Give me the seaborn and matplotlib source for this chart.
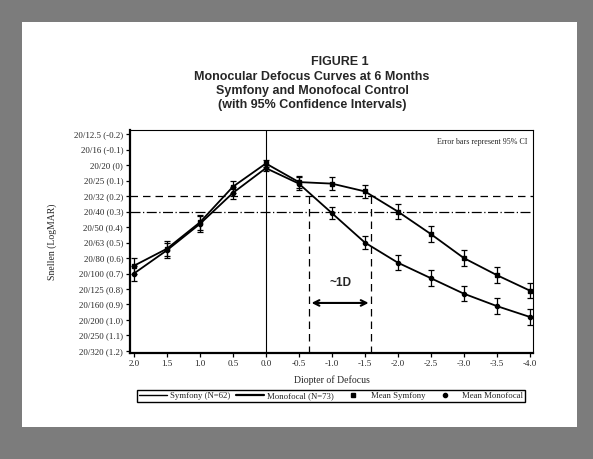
import matplotlib
matplotlib.use("Agg")
import matplotlib.pyplot as plt
from matplotlib.patches import Rectangle
from matplotlib.lines import Line2D
import seaborn as sns
import pandas as pd
import numpy as np

# ---- data ----
defocus = [2.0, 1.5, 1.0, 0.5, 0.0, -0.5, -1.0, -1.5, -2.0, -2.5, -3.0, -3.5, -4.0]
symfony = [0.65, 0.54, 0.37, 0.14, -0.01, 0.11, 0.12, 0.17, 0.30, 0.445, 0.60, 0.71, 0.81]
monofocal = [0.70, 0.55, 0.38, 0.18, 0.02, 0.12, 0.31, 0.50, 0.63, 0.73, 0.83, 0.91, 0.98]
symfony_ci = [0.05, 0.05, 0.05, 0.04, 0.02, 0.04, 0.04, 0.04, 0.05, 0.05, 0.05, 0.05, 0.05]
monofocal_ci = [0.05, 0.05, 0.05, 0.04, 0.02, 0.04, 0.04, 0.04, 0.05, 0.05, 0.05, 0.05, 0.05]
x_ticks = [2.0, 1.5, 1.0, 0.5, 0.0, -0.5, -1.0, -1.5, -2.0, -2.5, -3.0, -3.5, -4.0]
x_tick_labels = ["2.0", "1.5", "1.0", "0.5", "0.0", "-0.5", "-1.0", "-1.5", "-2.0",
                 "-2.5", "-3.0", "-3.5", "-4.0"]
y_ticks = [-0.2, -0.1, 0.0, 0.1, 0.2, 0.3, 0.4, 0.5, 0.6, 0.7, 0.8, 0.9, 1.0, 1.1, 1.2]
y_tick_labels = ["20/12.5 (-0.2)", "20/16 (-0.1)", "20/20 (0)", "20/25 (0.1)", "20/32 (0.2)",
                 "20/40 (0.3)", "20/50 (0.4)", "20/63 (0.5)", "20/80 (0.6)", "20/100 (0.7)",
                 "20/125 (0.8)", "20/160 (0.9)", "20/200 (1.0)", "20/250 (1.1)", "20/320 (1.2)"]
ref_dash = 0.2
ref_dashdot = 0.3
range_left = -0.65
range_right = -1.6

df = pd.DataFrame({
    "defocus": defocus * 2,
    "logmar": symfony + monofocal,
    "group": ["Symfony (N=62)"] * len(defocus) + ["Monofocal (N=73)"] * len(defocus),
})

sns.set_style("white")
serif = ["Liberation Serif", "DejaVu Serif"]
sans = ["Liberation Sans", "DejaVu Sans"]

fig = plt.figure(figsize=(5.93, 4.59), dpi=100, facecolor="#7c7c7c")
fig.patches.append(Rectangle((22 / 593, 1 - 427 / 459), (577 - 22) / 593, (427 - 22) / 459,
                             transform=fig.transFigure, facecolor="white", edgecolor="none",
                             zorder=-10))

ax = fig.add_axes([130 / 593, 1 - 353 / 459, (533 - 130) / 593, (353 - 130) / 459])
ax.set_facecolor("white")

sns.lineplot(data=df, x="defocus", y="logmar", hue="group",
             palette={"Symfony (N=62)": "black", "Monofocal (N=73)": "black"},
             linewidth=1.3, legend=False, ax=ax, sort=False, estimator=None)

ax.errorbar(defocus, symfony, yerr=symfony_ci, fmt="s", color="black", markersize=3,
            capsize=2.5, elinewidth=0.9, capthick=0.9, zorder=5)
ax.errorbar(defocus, monofocal, yerr=monofocal_ci, fmt="o", color="black", markersize=3,
            capsize=2.5, elinewidth=0.9, capthick=0.9, zorder=5)

ax.axhline(ref_dash, color="black", lw=0.9, ls=(0, (6, 4)), zorder=1)
ax.axhline(ref_dashdot, color="black", lw=0.9, ls=(0, (8, 2, 1, 2)), zorder=1)
ax.axvline(0.0, color="black", lw=0.8, zorder=1)
ax.plot([range_left, range_left], [ref_dash, 1.25], color="black", lw=0.9, ls=(0, (6, 4)))
ax.plot([range_right, range_right], [ref_dash, 1.25], color="black", lw=0.9, ls=(0, (6, 4)))
ax.annotate("", xy=(range_left, 0.89), xytext=(range_right, 0.89),
            arrowprops=dict(arrowstyle="<->", color="black", lw=1.5))
ax.text((range_left + range_right) / 2, 0.76, "~1D", ha="center", va="center",
        fontsize=8.5, fontweight="bold", family=sans)
ax.text(0.985, 0.965, "Error bars represent 95% CI", transform=ax.transAxes, ha="right",
        va="top", fontsize=5.8, family=serif)

ax.set_xlim(2.06, -4.05)
ax.set_ylim(1.213, -0.226)
ax.set_xticks(x_ticks)
ax.set_xticklabels(x_tick_labels, family=serif, fontsize=6.5)
ax.set_yticks(y_ticks)
ax.set_yticklabels(y_tick_labels, family=serif, fontsize=6.4)
ax.tick_params(axis="both", direction="out", length=3, width=0.9, color="black", pad=2,
               left=True, bottom=True)
ax.set_xlabel("Diopter of Defocus", family=serif, fontsize=7, labelpad=5)
ax.set_ylabel("Snellen (LogMAR)", family=serif, fontsize=7, labelpad=12)
for side in ["left", "bottom"]:
    ax.spines[side].set_linewidth(1.6)
for side in ["top", "right"]:
    ax.spines[side].set_linewidth(0.8)
for sp in ax.spines.values():
    sp.set_color("black")

title_lines = ["FIGURE 1", "Monocular Defocus Curves at 6 Months",
               "Symfony and Monofocal Control", "(with 95% Confidence Intervals)"]
title_y = [62, 77, 91, 105]
title_x = [340, 312, 312, 312]
for t, yy, xx in zip(title_lines, title_y, title_x):
    fig.text(xx / 593, 1 - yy / 459, t, ha="center", va="center",
             fontsize=9, fontweight="bold", family=sans)

handles = [
    Line2D([], [], color="black", lw=1.0),
    Line2D([], [], color="black", lw=1.6),
    Line2D([], [], color="black", ls="none", marker="s", markersize=3),
    Line2D([], [], color="black", ls="none", marker="o", markersize=3),
]
labels = ["Symfony (N=62)", "Monofocal (N=73)", "Mean Symfony", "Mean Monofocal"]
leg = fig.legend(handles, labels, loc="center", bbox_to_anchor=(331 / 593, 1 - 396 / 459),
                 ncol=4, frameon=True, fancybox=False, edgecolor="black", framealpha=1,
                 prop={"family": serif, "size": 6.3}, handlelength=3.2, handletextpad=0.4,
                 columnspacing=0.6, borderpad=0.2)
leg.get_frame().set_linewidth(1.0)

fig.savefig("out.png", dpi=100, facecolor=fig.get_facecolor())
